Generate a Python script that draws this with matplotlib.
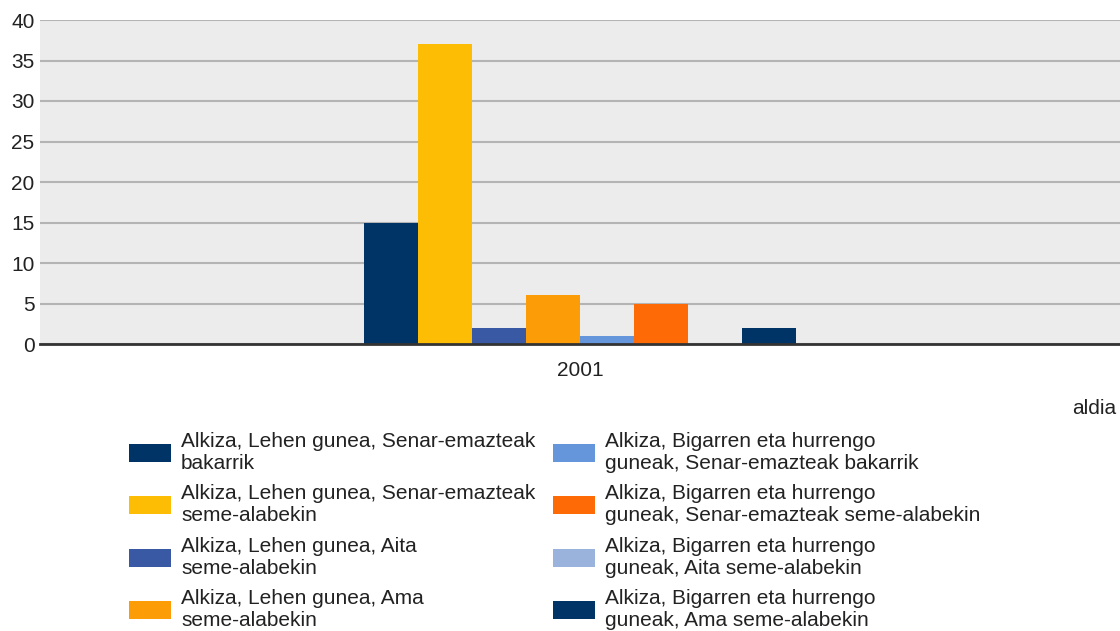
import matplotlib.pyplot as plt
import numpy as np

plt.rcParams["font.family"] = ["Liberation Sans", "DejaVu Sans"]

# ── Data ─────────────────────────────────────────────────────────────────────
years = ["2001"]
series_labels = [
    "Alkiza, Lehen gunea, Senar-emazteak\nbakarrik",
    "Alkiza, Lehen gunea, Senar-emazteak\nseme-alabekin",
    "Alkiza, Lehen gunea, Aita\nseme-alabekin",
    "Alkiza, Lehen gunea, Ama\nseme-alabekin",
    "Alkiza, Bigarren eta hurrengo\nguneak, Senar-emazteak bakarrik",
    "Alkiza, Bigarren eta hurrengo\nguneak, Senar-emazteak seme-alabekin",
    "Alkiza, Bigarren eta hurrengo\nguneak, Aita seme-alabekin",
    "Alkiza, Bigarren eta hurrengo\nguneak, Ama seme-alabekin",
]
values = [15, 37, 2, 6, 1, 5, 0, 2]
colors = ["#003366", "#fdbd04", "#3a59a5", "#fc9c06", "#6596dc", "#fd6a06", "#99b3dc", "#003366"]
y_ticks = [0, 5, 10, 15, 20, 25, 30, 35, 40]

# ── Figure ───────────────────────────────────────────────────────────────────
fig = plt.figure(figsize=(11.2, 6.31), dpi=100)
ax = fig.add_axes([40 / 1120, 1 - 344 / 631, 1 - 40 / 1120, (344 - 20) / 631])
ax.set_facecolor("#ececec")

n = len(values)
bar_w = 0.4 / n
x = np.arange(len(years))
for i, (v, c, lab) in enumerate(zip(values, colors, series_labels)):
    ax.bar(x + (i - (n - 1) / 2) * bar_w, [v], width=bar_w, color=c, label=lab,
           linewidth=0, zorder=3)

ax.set_xlim(-0.5, 0.5)
ax.set_ylim(0, 40)
ax.set_yticks(y_ticks)
ax.set_xticks(x)
ax.set_xticklabels(years)
ax.yaxis.grid(True, color="#b4b4b4", linewidth=1.5, zorder=1)
ax.set_axisbelow(True)
for s in ["left", "right", "top"]:
    ax.spines[s].set_visible(False)
ax.spines["bottom"].set_color("#333333")
ax.spines["bottom"].set_linewidth(2)
ax.spines["bottom"].set_zorder(4)
ax.tick_params(axis="both", length=0, labelsize=15, colors="#222222")
ax.tick_params(axis="y", pad=4)
ax.tick_params(axis="x", pad=12)

fig.text(1116 / 1120, 1 - 408 / 631, "aldia", ha="right", va="center",
         fontsize=15, color="#222222")

leg = fig.legend(loc="upper left", bbox_to_anchor=(129 / 1120, 1 - 432 / 631),
                 ncol=2, frameon=False, fontsize=15, handlelength=2.0,
                 handleheight=0.95, handletextpad=0.5, columnspacing=0.85,
                 labelspacing=0.55, borderpad=0, borderaxespad=0)
for t in leg.get_texts():
    t.set_linespacing(1.2)
    t.set_color("#222222")

fig.savefig("out.png", dpi=100)
